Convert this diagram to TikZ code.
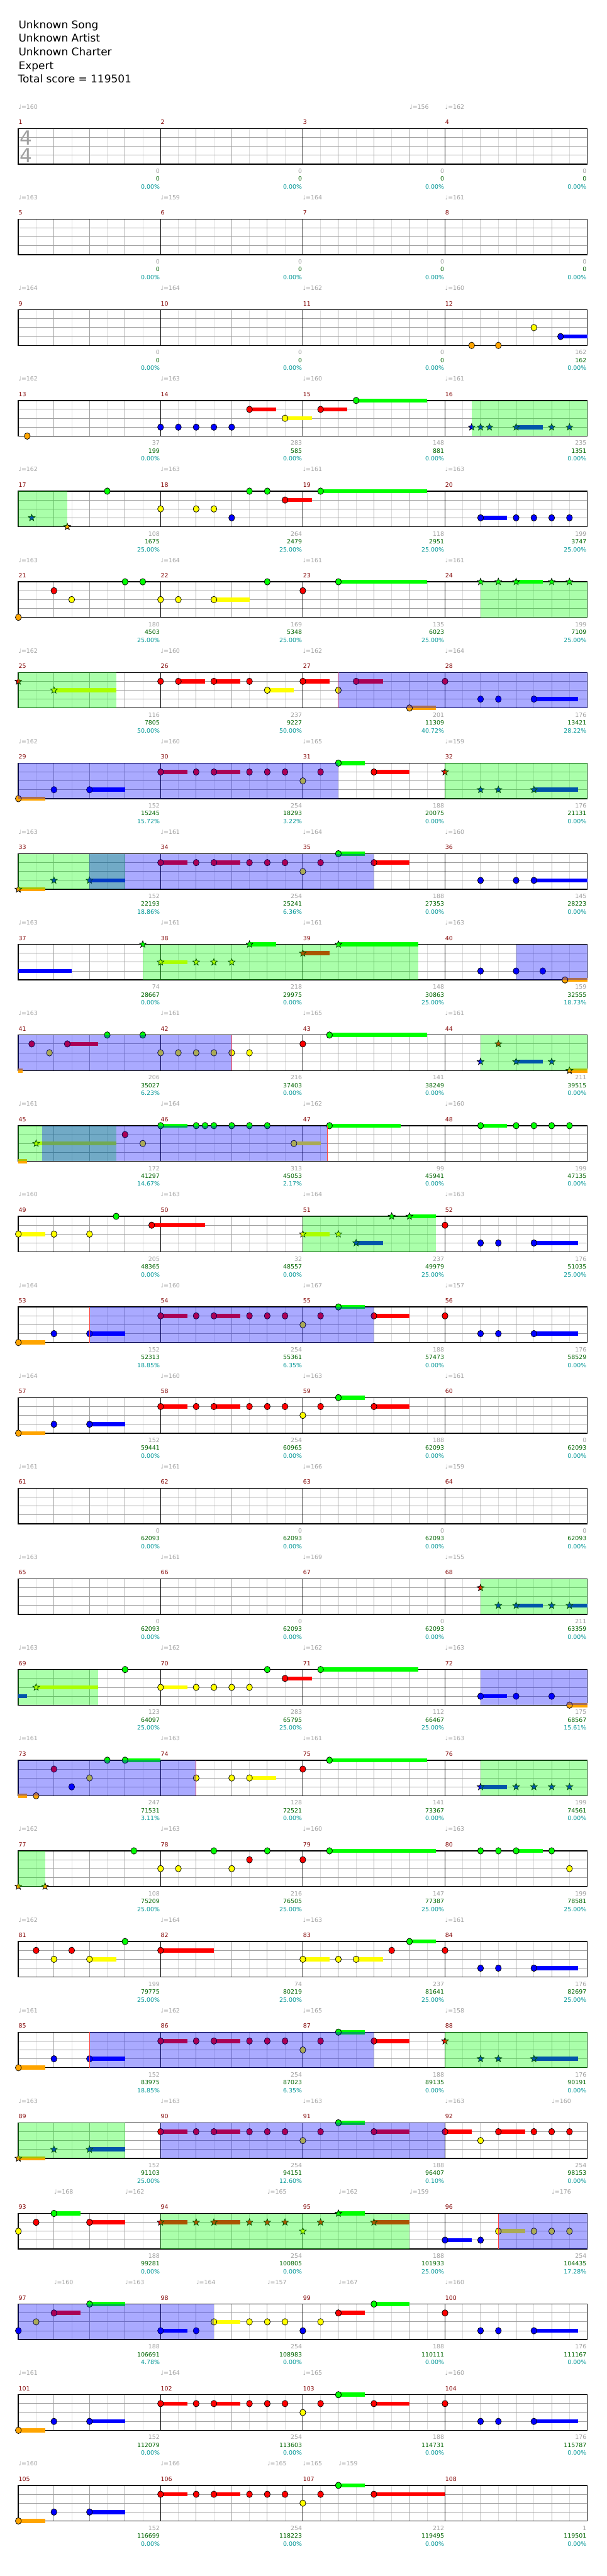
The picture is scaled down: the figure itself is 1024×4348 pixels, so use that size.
\documentclass[tikz,border=0pt]{standalone}
\usepackage{fontspec}
\setmainfont{DejaVu Sans}
\definecolor{ChartGrey}{HTML}{A0A0A0}
\definecolor{ChartFaint}{HTML}{DCDCDC}
\definecolor{ChartBarNo}{HTML}{800000}
\definecolor{ChartScore}{HTML}{006400}
\definecolor{ChartPct}{HTML}{009696}
\definecolor{ChartStar}{HTML}{00FF00}
\definecolor{ChartAct}{HTML}{0000FF}
\definecolor{lane0}{HTML}{00FF00}
\definecolor{lane1}{HTML}{FF0000}
\definecolor{lane2}{HTML}{FFFF00}
\definecolor{lane3}{HTML}{0000FF}
\definecolor{lane4}{HTML}{FFA500}

% notes: position in eighths from the row start, lane 0 (green) .. 4 (orange)
\newcommand\gem[2]{\filldraw[gemline,fill=lane#2] ({30*#1},{15*#2}) ellipse (5 and 5.5);}
\newcommand\tail[3]{\fill[lane#3] ({30*#1},{15*#3-3.5}) rectangle ({30*#2},{15*#3+3.5});}
\newcommand\gemsus[3]{\tail{#1}{#3}{#2}\gem{#1}{#2}}
\newcommand\spgem[2]{\filldraw[gemline,fill=lane#2] plot[samples at={0,...,9}]
  ({30*#1+(6-3.4*mod(\x,2))*cos(90+36*\x)},{15*#2-(6-3.4*mod(\x,2))*sin(90+36*\x)}) -- cycle;}
\newcommand\spsus[3]{\tail{#1}{#3}{#2}\spgem{#1}{#2}}
\newcommand\sprun[2]{\fill[ChartStar,fill opacity=0.333] ({30*#1},0) rectangle ({30*#2},60);}
\newcommand\sparea[2]{\fill[ChartAct,fill opacity=0.333] ({30*#1},0) rectangle ({30*#2},60);}
\newcommand\actline[1]{\draw[actedge] ({30*#1},0) -- ({30*#1},60);}
\newcommand\riffA[2]{#2{0}{4}{1.5}#1{2}{3}#2{4}{3}{6}}
\newcommand\riffB[2]{#2{8}{1}{9.5}#1{10}{1}#2{11}{1}{12.5}#1{13}{1}#1{14}{1}#1{15}{1}#1{17}{1}#1{16}{2}#2{18}{0}{19.5}}
\newcommand\riffC[2]{#1{24}{1}#1{26}{3}#1{27}{3}#2{29}{3}{31.5}}

\newcommand\drawstaff[1]{%
  \foreach \i in {1,...,31} \draw[eighthrule] ({30*\i},0) -- ({30*\i},60);
  \foreach \i in {1,2,3} \draw[beatrule] (0,{15*\i}) -- (960,{15*\i});
  \foreach \i in {2,4,...,30} \draw[beatrule] ({30*\i},0) -- ({30*\i},60);
  \foreach \i in {8,16,24} \draw[barrule] ({30*\i},0) -- ({30*\i},60);
  \draw[framerule] (0,0) rectangle (960,60);
  \foreach \i in {0,...,3} {\pgfmathtruncatemacro\mn{#1+\i}
    \node[measnum] (m\mn) at ({240*\i},-7) {\mn};}}
\newcommand\tempos[1]{\foreach \p/\bpm in {#1}
  {\node[tempo] (t\rowid-\p) at ({30*\p},-33) {♩=\bpm};}}
\newcommand\scores[1]{\foreach \barpts/\runpts/\pctval [count=\i] in {#1} {%
  \node[barscore] (g\rowid-\i) at ({240*\i-1},75.5) {\barpts};
  \node[runscore] (s\rowid-\i) at ({240*\i-1},88.5) {\runpts};
  \node[sppct] (q\rowid-\i) at ({240*\i-1},102) {\pctval\%};}}
\newcommand\chartrow[3]{%
  \begin{scope}[shift={(31,{217+153*#1})}]
    \def\rowid{#1}
    \drawstaff{#2}
    #3
  \end{scope}}

\begin{document}
\begin{tikzpicture}[x=0.5pt,y=-0.5pt,
  gemline/.style={draw=black,line width=0.4pt},
  eighthrule/.style={ChartFaint,line width=0.5pt},
  beatrule/.style={ChartGrey,line width=0.5pt},
  barrule/.style={black,line width=0.5pt},
  framerule/.style={black,line width=0.75pt},
  actedge/.style={draw=red!75,line width=0.5pt},
  heading/.style={anchor=base west,inner sep=0pt,font=\fontsize{9}{11}\selectfont},
  measnum/.style={anchor=base west,inner sep=0pt,text=ChartBarNo,font=\fontsize{5}{6}\selectfont},
  tempo/.style={anchor=base west,inner sep=0pt,text=ChartGrey,font=\fontsize{5}{6}\selectfont},
  barscore/.style={anchor=base east,inner sep=0pt,text=ChartGrey,font=\fontsize{5}{6}\selectfont},
  runscore/.style={anchor=base east,inner sep=0pt,text=ChartScore,font=\fontsize{5}{6}\selectfont},
  sppct/.style={anchor=base east,inner sep=0pt,text=ChartPct,font=\fontsize{5}{6}\selectfont},
  timesig/.style={inner sep=0pt,text=ChartGrey,font=\fontsize{16.5}{18}\selectfont}]
  \fill[white] (0,0) rectangle (1024,4348);
  \useasboundingbox (0,0) rectangle (1024,4348);

  \node[heading] (song) at (31,48) {Unknown Song};
  \node[heading] (artist) at (31,71) {Unknown Artist};
  \node[heading] (charter) at (31,94) {Unknown Charter};
  \node[heading] (level) at (31,117) {Expert};
  \node[heading] (total) at (30,140) {Total score = 119501};

  \chartrow{0}{1}{%
    \node[timesig] (sigtop) at (13,16) {4};
    \node[timesig] (sigbot) at (13,45) {4};
    \tempos{0/160,22/156,24/162}
    \scores{0/0/0.00,0/0/0.00,0/0/0.00,0/0/0.00}}
  \chartrow{1}{5}{%
    \tempos{0/163,8/159,16/164,24/161}
    \scores{0/0/0.00,0/0/0.00,0/0/0.00,0/0/0.00}}
  \chartrow{2}{9}{%
    \gem{25.5}{4}\gem{27}{4}\gem{29}{2}\gemsus{30.5}{3}{32}
    \tempos{0/164,8/164,16/162,24/160}
    \scores{0/0/0.00,0/0/0.00,0/0/0.00,162/162/0.00}}
  \chartrow{3}{13}{%
    \gem{0.5}{4}
    \foreach \p in {8,...,12} {\gem{\p}{3}}
    \gemsus{13}{1}{14.5}\gemsus{15}{2}{16.5}\gemsus{17}{1}{18.5}\gemsus{19}{0}{23}
    \spgem{25.5}{3}\spgem{26}{3}\spgem{26.5}{3}\spsus{28}{3}{29.5}\spgem{30}{3}\spgem{31}{3}
    \sprun{25.5}{32}
    \tempos{0/162,8/163,16/160,24/161}
    \scores{37/199/0.00,283/585/0.00,148/881/0.00,235/1351/0.00}}
  \chartrow{4}{17}{%
    \spgem{0.75}{3}\spgem{2.75}{4}
    \gem{5}{0}\gem{13}{0}\gem{14}{0}\gemsus{17}{0}{23}\gemsus{15}{1}{16.5}
    \gem{8}{2}\gem{10}{2}\gem{11}{2}\gem{12}{3}
    \gemsus{26}{3}{27.5}\gem{28}{3}\gem{29}{3}\gem{30}{3}\gem{31}{3}
    \sprun{0}{2.75}
    \tempos{0/162,8/163,16/161,24/163}
    \scores{108/1675/25.00,264/2479/25.00,118/2951/25.00,199/3747/25.00}}
  \chartrow{5}{21}{%
    \gem{0}{4}\gem{2}{1}\gem{3}{2}\gem{6}{0}\gem{7}{0}\gem{8}{2}\gem{9}{2}
    \gemsus{11}{2}{13}\gem{14}{0}\gem{16}{1}\gemsus{18}{0}{23}
    \spgem{26}{0}\spgem{27}{0}\spsus{28}{0}{29.5}\spgem{30}{0}\spgem{31}{0}
    \sprun{26}{32}
    \tempos{0/163,8/164,16/161,24/161}
    \scores{180/4503/25.00,169/5348/25.00,135/6023/25.00,199/7109/25.00}}
  \chartrow{6}{25}{%
    \spgem{0}{1}\spsus{2}{2}{5.5}
    \gem{8}{1}\gemsus{9}{1}{10.5}\gemsus{11}{1}{12.5}\gem{13}{1}\gemsus{14}{2}{15.5}
    \gemsus{16}{1}{17.5}\gem{18}{2}\gemsus{19}{1}{20.5}\gemsus{22}{4}{23.5}\gem{24}{1}
    \gem{26}{3}\gem{27}{3}\gemsus{29}{3}{31.5}
    \sprun{0}{5.5}\sparea{18}{32}\actline{18}
    \tempos{0/162,8/160,16/162,24/164}
    \scores{116/7805/50.00,237/9227/50.00,201/11309/40.72,176/13421/28.22}}
  \chartrow{7}{29}{%
    \riffA\gem\gemsus\riffB\gem\gemsus\gemsus{20}{1}{22}\riffC\spgem\spsus
    \sparea{0}{18}\sprun{24}{32}
    \tempos{0/162,8/160,16/165,24/159}
    \scores{152/15245/15.72,254/18293/3.22,188/20075/0.00,176/21131/0.00}}
  \chartrow{8}{33}{%
    \riffA\spgem\spsus\riffB\gem\gemsus\gemsus{20}{1}{22}
    \gem{26}{3}\gem{28}{3}\gemsus{29}{3}{32}
    \sprun{0}{6}\sparea{4}{20}
    \tempos{0/163,8/161,16/164,24/160}
    \scores{152/22193/18.86,254/25241/6.36,188/27353/0.00,145/28223/0.00}}
  \chartrow{9}{37}{%
    \tail{0}{3}{3}\spgem{7}{0}\spsus{8}{2}{9.5}\spgem{10}{2}\spgem{11}{2}\spgem{12}{2}
    \spsus{13}{0}{14.5}\spsus{16}{1}{17.5}\spsus{18}{0}{22.5}
    \gem{26}{3}\gem{28}{3}\gem{29.5}{3}\gemsus{30.75}{4}{32}
    \sprun{7}{22.5}\sparea{28}{32}
    \tempos{0/163,8/161,16/161,24/163}
    \scores{74/28667/0.00,218/29975/0.00,148/30863/25.00,159/32555/18.73}}
  \chartrow{10}{41}{%
    \tail{0}{0.25}{4}\gem{0.75}{1}\gem{1.75}{2}\gemsus{2.75}{1}{4.5}\gem{5}{0}\gem{7}{0}
    \foreach \p in {8,...,13} {\gem{\p}{2}}
    \gem{16}{1}\gemsus{17.5}{0}{23}
    \spgem{26}{3}\spgem{27}{1}\spsus{28}{3}{29.5}\spgem{30}{3}\spsus{31}{4}{32}
    \sparea{0}{12}\actline{12}\sprun{26}{32}
    \tempos{0/163,8/161,16/165,24/161}
    \scores{206/35027/6.23,216/37403/0.00,141/38249/0.00,211/39515/0.00}}
  \chartrow{11}{45}{%
    \tail{0}{0.5}{4}\spsus{1}{2}{5.5}\gem{6}{1}\gem{7}{2}\gemsus{8}{0}{9.5}
    \foreach \p in {10,10.5,11,12,13,14} {\gem{\p}{0}}
    \gemsus{15.5}{2}{17}\gemsus{17.5}{0}{21.5}\gemsus{26}{0}{27.5}
    \foreach \p in {28,...,31} {\gem{\p}{0}}
    \sprun{0}{5.5}\sparea{1.35}{17.4}\actline{17.4}
    \tempos{0/161,8/164,16/162,24/160}
    \scores{172/41297/14.67,313/45053/2.17,99/45941/0.00,199/47135/0.00}}
  \chartrow{12}{49}{%
    \gemsus{0}{2}{1.5}\gem{2}{2}\gem{4}{2}\gem{5.5}{0}\gemsus{7.5}{1}{10.5}
    \spsus{16}{2}{17.5}\spgem{18}{2}\spsus{19}{3}{20.5}\spgem{21}{0}\spsus{22}{0}{23.5}
    \riffC\gem\gemsus
    \sprun{16}{23.5}
    \tempos{0/160,8/163,16/164,24/163}
    \scores{205/48365/0.00,32/48557/0.00,237/49979/25.00,176/51035/25.00}}
  \chartrow{13}{53}{%
    \riffA\gem\gemsus\riffB\gem\gemsus\gemsus{20}{1}{22}\riffC\gem\gemsus
    \sparea{4}{20}\actline{4}
    \tempos{0/164,8/160,16/167,24/157}
    \scores{152/52313/18.85,254/55361/6.35,188/57473/0.00,176/58529/0.00}}
  \chartrow{14}{57}{%
    \riffA\gem\gemsus\riffB\gem\gemsus\gemsus{20}{1}{22}
    \tempos{0/164,8/160,16/163,24/161}
    \scores{152/59441/0.00,254/60965/0.00,188/62093/0.00,0/62093/0.00}}
  \chartrow{15}{61}{%
    \tempos{0/161,8/161,16/166,24/159}
    \scores{0/62093/0.00,0/62093/0.00,0/62093/0.00,0/62093/0.00}}
  \chartrow{16}{65}{%
    \spgem{26}{1}\spgem{27}{3}\spsus{28}{3}{29.5}\spgem{30}{3}\spsus{31}{3}{32}
    \sprun{26}{32}
    \tempos{0/163,8/161,16/169,24/155}
    \scores{0/62093/0.00,0/62093/0.00,0/62093/0.00,211/63359/0.00}}
  \chartrow{17}{69}{%
    \tail{0}{0.5}{3}\spsus{1}{2}{4.5}\gem{6}{0}\gemsus{8}{2}{9.5}
    \gem{10}{2}\gem{11}{2}\gem{12}{2}\gem{13}{2}\gem{14}{0}\gemsus{15}{1}{16.5}\gemsus{17}{0}{22.5}
    \gemsus{26}{3}{27.5}\gem{28}{3}\gem{30}{3}\gemsus{31}{4}{32}
    \sprun{0}{4.5}\sparea{26}{32}
    \tempos{0/163,8/162,16/162,24/163}
    \scores{123/64097/25.00,283/65795/25.00,112/66467/25.00,175/68567/15.61}}
  \chartrow{18}{73}{%
    \tail{0}{0.5}{4}\gem{1}{4}\gem{2}{1}\gem{3}{3}\gem{4}{2}\gem{5}{0}\gemsus{6}{0}{8}
    \gem{10}{2}\gem{12}{2}\gemsus{13}{2}{14.5}\gem{16}{1}\gemsus{17.5}{0}{23}
    \spsus{26}{3}{27.5}\spgem{28}{3}\spgem{29}{3}\spgem{30}{3}\spgem{31}{3}
    \sparea{0}{10}\actline{10}\sprun{26}{32}
    \tempos{0/161,8/163,16/161,24/163}
    \scores{247/71531/3.11,128/72521/0.00,141/73367/0.00,199/74561/0.00}}
  \chartrow{19}{77}{%
    \spgem{0}{4}\spgem{1.5}{4}\gem{6.5}{0}\gem{8}{2}\gem{9}{2}\gem{11}{0}\gem{12}{2}
    \gem{13}{1}\gem{14}{0}\gem{16}{1}\gemsus{17.5}{0}{23.5}
    \gem{26}{0}\gem{27}{0}\gemsus{28}{0}{29.5}\gem{30}{0}\gem{31}{2}
    \sprun{0}{1.5}
    \tempos{0/162,8/163,16/160,24/163}
    \scores{108/75209/25.00,216/76505/25.00,147/77387/25.00,199/78581/25.00}}
  \chartrow{20}{81}{%
    \gem{1}{1}\gem{2}{2}\gem{3}{1}\gemsus{4}{2}{5.5}\gem{6}{0}\gemsus{8}{1}{11}
    \gemsus{16}{2}{17.5}\gem{18}{2}\gemsus{19}{2}{20.5}\gem{21}{1}\gemsus{22}{0}{23.5}
    \riffC\gem\gemsus
    \tempos{0/162,8/164,16/163,24/161}
    \scores{199/79775/25.00,74/80219/25.00,237/81641/25.00,176/82697/25.00}}
  \chartrow{21}{85}{%
    \riffA\gem\gemsus\riffB\gem\gemsus\gemsus{20}{1}{22}\riffC\spgem\spsus
    \sparea{4}{20}\actline{4}\sprun{24}{32}
    \tempos{0/161,8/162,16/165,24/158}
    \scores{152/83975/18.85,254/87023/6.35,188/89135/0.00,176/90191/0.00}}
  \chartrow{22}{89}{%
    \riffA\spgem\spsus\riffB\gem\gemsus\gemsus{20}{1}{22}
    \gemsus{24}{1}{25.5}\gem{26}{2}\gemsus{27}{1}{28.5}\gem{29}{1}\gem{30}{1}\gem{31}{1}
    \sprun{0}{6}\sparea{8}{24}
    \tempos{0/163,8/163,16/163,24/163,30/160}
    \scores{152/91103/25.00,254/94151/12.60,188/96407/0.10,254/98153/0.00}}
  \chartrow{23}{93}{%
    \gem{0}{2}\gem{1}{1}\gemsus{2}{0}{3.5}\gemsus{4}{1}{6}
    \riffB\spgem\spsus\spsus{20}{1}{22}
    \gemsus{24}{3}{25.5}\gem{26}{3}\gemsus{27}{2}{28.5}\gem{29}{2}\gem{30}{2}\gem{31}{2}
    \sprun{8}{22}\sparea{27}{32}\actline{27}
    \tempos{2/168,6/162,14/165,18/162,22/159,30/176}
    \scores{188/99281/0.00,254/100805/0.00,188/101933/25.00,254/104435/17.28}}
  \chartrow{24}{97}{%
    \gem{0}{3}\gem{1}{2}\gemsus{2}{1}{3.5}\gemsus{4}{0}{6}\gemsus{8}{3}{9.5}\gem{10}{3}
    \gemsus{11}{2}{12.5}\gem{13}{2}\gem{14}{2}\gem{15}{2}\gem{16}{3}\gem{17}{2}
    \gemsus{18}{1}{19.5}\gemsus{20}{0}{22}
    \riffC\gem\gemsus
    \sparea{0}{11}
    \tempos{2/160,6/163,10/164,14/157,18/167,24/160}
    \scores{188/106691/4.78,254/108983/0.00,188/110111/0.00,176/111167/0.00}}
  \chartrow{25}{101}{%
    \riffA\gem\gemsus\riffB\gem\gemsus\gemsus{20}{1}{22}\riffC\gem\gemsus
    \tempos{0/161,8/164,16/165,24/160}
    \scores{152/112079/0.00,254/113603/0.00,188/114731/0.00,176/115787/0.00}}
  \chartrow{26}{105}{%
    \riffA\gem\gemsus\riffB\gem\gemsus\gemsus{20}{1}{24}
    \tempos{0/160,8/166,14/165,16/165,18/159}
    \scores{152/116699/0.00,254/118223/0.00,212/119495/0.00,1/119501/0.00}}
\end{tikzpicture}
\end{document}
